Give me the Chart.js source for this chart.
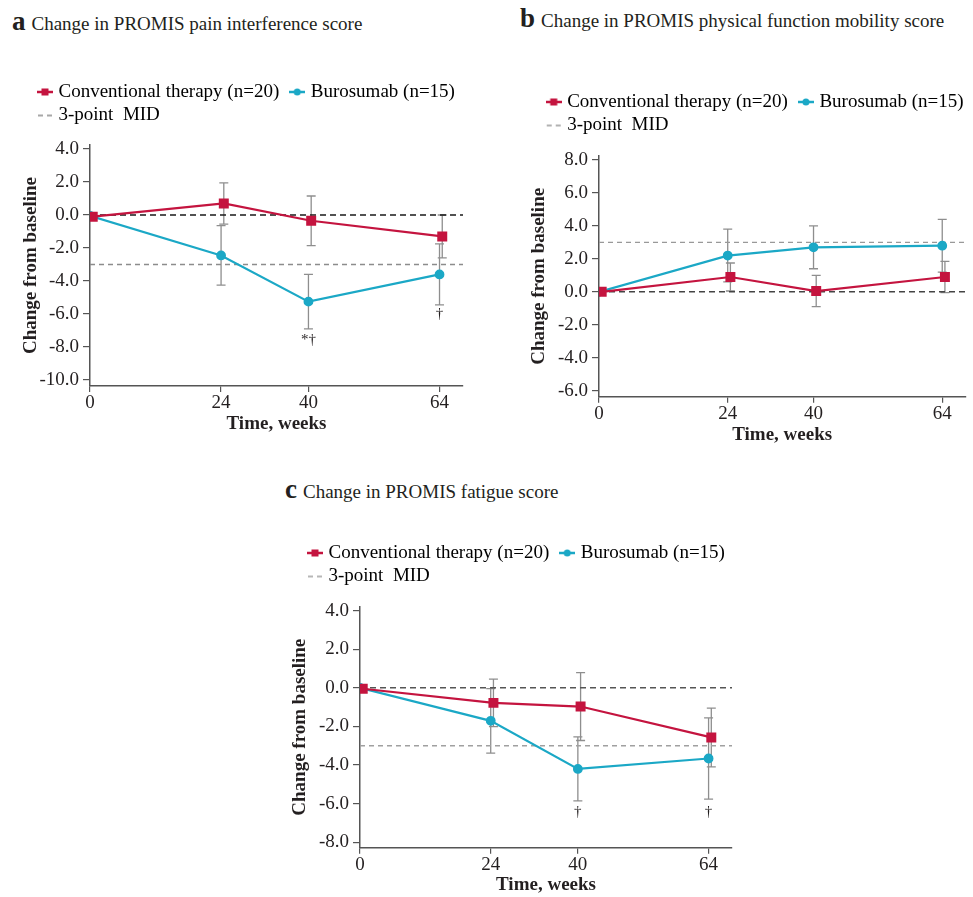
<!DOCTYPE html>
<html>
<head>
<meta charset="utf-8">
<script src="https://cdn.jsdelivr.net/npm/chart.js@4.4.0/dist/chart.umd.min.js"></script>
<style>
    body { margin: 0; background: #fff; width: 973px; height: 897px; position: relative; overflow: hidden;
           font-family: "Liberation Serif", "Times New Roman", serif; color: #231f20; }
    .title { position: absolute; white-space: nowrap; font-size: 19px; line-height: 26px; }
    .title b { font-size: 27px; }
    .title span { margin-left: 6px; }
    canvas { position: absolute; }
</style>
</head>
<body>
<div class="title" style="left:12px;top:8px"><b>a</b><span>Change in PROMIS pain interference score</span></div>
<div class="title" style="left:520px;top:5px"><b>b</b><span>Change in PROMIS physical function mobility score</span></div>
<div class="title" style="left:285px;top:476px"><b>c</b><span>Change in PROMIS fatigue score</span></div>

<canvas id="chartA" width="475" height="362" style="left:0px;top:78px"></canvas>
<canvas id="chartB" width="453" height="367" style="left:520px;top:88px"></canvas>
<canvas id="chartC" width="460" height="358" style="left:280px;top:539px"></canvas>

<script>
// values (change from baseline, mean +/- error)
const weeks = [0, 24, 40, 64];
const xTicks = [0, 24, 40, 64];
const legendLabels = ["Conventional therapy (n=20)", "Burosumab (n=15)", "3-point  MID"];

const painConv = [-0.1, 0.7, -0.35, -1.3];
const painConvErr = [0, 1.25, 1.5, 1.3];
const painBuro = [-0.05, -2.45, -5.25, -3.6];
const painBuroErr = [0, 1.8, 1.65, 1.85];
const painTicks = [-10, -8, -6, -4, -2, 0, 2, 4];
const painMid = -3;
const painNotes = [{x: 40, y: -7.6, text: "*\u2020"}, {x: 64, y: -6.0, text: "\u2020"}];

const mobConv = [0, 0.9, 0.05, 0.9];
const mobConvErr = [0, 0.85, 0.95, 0.95];
const mobBuro = [0, 2.2, 2.7, 2.8];
const mobBuroErr = [0, 1.6, 1.3, 1.6];
const mobTicks = [-6, -4, -2, 0, 2, 4, 6, 8];
const mobMid = 3;

const fatConv = [-0.05, -0.78, -0.97, -2.57];
const fatConvErr = [0, 1.23, 1.76, 1.52];
const fatBuro = [0, -1.71, -4.2, -3.66];
const fatBuroErr = [0, 1.67, 1.66, 2.1];
const fatTicks = [-8, -6, -4, -2, 0, 2, 4];
const fatMid = -3;
const fatNotes = [{x: 40, y: -6.45, text: "\u2020"}, {x: 64, y: -6.45, text: "\u2020"}];

const xMax = 68.3;
const dodge = 0.5;   // conventional arm is drawn slightly right of the tick

const ink = "#231f20";
const red = "#c4143f";
const teal = "#1ba8c6";
const axisGrey = "#555555";
const barGrey = "#8e8e8e";

Chart.defaults.font.family = '"Liberation Serif", "Times New Roman", serif';
Chart.defaults.color = ink;

function markerImage(kind, color) {
    const c = document.createElement("canvas");
    c.width = 16;
    c.height = 10;
    const g = c.getContext("2d");
    g.strokeStyle = color;
    g.fillStyle = color;
    if (kind === "dash") {
        g.lineWidth = 1.3;
        g.beginPath();
        g.moveTo(1, 5); g.lineTo(6, 5);
        g.moveTo(10, 5); g.lineTo(15, 5);
        g.stroke();
    } else {
        g.lineWidth = 2.5;
        g.beginPath();
        g.moveTo(0, 5); g.lineTo(16, 5);
        g.stroke();
        if (kind === "rect") {
            g.fillRect(4.5, 1.5, 7, 7);
        } else {
            g.beginPath();
            g.arc(8, 5, 3.5, 0, Math.PI * 2);
            g.fill();
        }
    }
    return c;
}

// vertical error bars under the lines
const errorBars = {
    id: "errorBars",
    beforeDatasetsDraw(chart) {
        const ctx = chart.ctx;
        const y = chart.scales.y;
        ctx.save();
        ctx.strokeStyle = barGrey;
        ctx.lineWidth = 1.3;
        chart.data.datasets.forEach((ds, i) => {
            if (!ds.errors) return;
            chart.getDatasetMeta(i).data.forEach((pt, j) => {
                const e = ds.errors[j];
                if (!e) return;
                const v = ds.data[j].y;
                const top = y.getPixelForValue(v + e);
                const bot = y.getPixelForValue(v - e);
                ctx.beginPath();
                ctx.moveTo(pt.x, top); ctx.lineTo(pt.x, bot);
                ctx.moveTo(pt.x - 4.5, top); ctx.lineTo(pt.x + 4.5, top);
                ctx.moveTo(pt.x - 4.5, bot); ctx.lineTo(pt.x + 4.5, bot);
                ctx.stroke();
            });
        });
        ctx.restore();
    }
};

// significance marks (* and dagger)
const notes = {
    id: "notes",
    afterDatasetsDraw(chart, args, opts) {
        if (!opts.items) return;
        const ctx = chart.ctx;
        ctx.save();
        ctx.font = '15px "Liberation Serif"';
        ctx.fillStyle = ink;
        ctx.textAlign = "center";
        ctx.textBaseline = "middle";
        opts.items.forEach(n => {
            ctx.fillText(n.text, chart.scales.x.getPixelForValue(n.x), chart.scales.y.getPixelForValue(n.y));
        });
        ctx.restore();
    }
};

// move the legend right and leave a gap under it
const legendPlace = {
    id: "legendPlace",
    beforeInit(chart, args, opts) {
        const fit = chart.legend.fit;
        const gap = opts.gap;
        chart.legend.fit = function() {
            fit.call(this);
            this.height += gap;
        };
    },
    afterLayout(chart, args, opts) {
        chart.legend.left += opts.dx;
        chart.legend.right += opts.dx;
    }
};

function legendItems(midColor) {
    return [
        // two trailing spaces widen the gap to the next entry
        {text: legendLabels[0] + "  ", pointStyle: markerImage("rect", red), fillStyle: red, strokeStyle: red, lineWidth: 0, hidden: false, datasetIndex: 0},
        {text: legendLabels[1], pointStyle: markerImage("circle", teal), fillStyle: teal, strokeStyle: teal, lineWidth: 0, hidden: false, datasetIndex: 1},
        {text: legendLabels[2], pointStyle: markerImage("dash", midColor), fillStyle: midColor, strokeStyle: midColor, lineWidth: 0, hidden: false, datasetIndex: 3}
    ];
}

function makePanel(id, p) {
    new Chart(document.getElementById(id), {
        type: "line",
        data: {
            datasets: [
                {
                    label: legendLabels[0],
                    data: weeks.map((w, i) => ({x: w + dodge, y: p.conv[i]})),
                    errors: p.convErr,
                    borderColor: red,
                    backgroundColor: red,
                    pointStyle: "rect",
                    pointRadius: 5.5,
                    borderWidth: 2.2,
                    order: 0
                },
                {
                    label: legendLabels[1],
                    data: weeks.map((w, i) => ({x: w, y: p.buro[i]})),
                    errors: p.buroErr,
                    borderColor: teal,
                    backgroundColor: teal,
                    pointStyle: "circle",
                    pointRadius: 3.8,
                    borderWidth: 2.2,
                    order: 1
                },
                {
                    label: "baseline",
                    data: [{x: 0, y: 0}, {x: xMax, y: 0}],
                    borderColor: p.zeroColor,
                    borderDash: [6, 4],
                    borderWidth: 1.5,
                    pointRadius: 0,
                    order: 2
                },
                {
                    label: legendLabels[2],
                    data: [{x: 0, y: p.mid}, {x: xMax, y: p.mid}],
                    borderColor: p.midColor,
                    borderDash: [5, 4],
                    borderWidth: 1.3,
                    pointRadius: 0,
                    order: 3
                }
            ]
        },
        options: {
            responsive: false,
            animation: false,
            layout: {padding: {left: 0, right: p.padRight, top: 0, bottom: 0}},
            plugins: {
                legend: {
                    position: "top",
                    align: "start",
                    labels: {
                        font: {size: 19},
                        color: ink,
                        usePointStyle: true,
                        pointStyleWidth: 8,
                        padding: 4.5,
                        generateLabels: () => legendItems(p.midColor)
                    }
                },
                tooltip: {enabled: false},
                legendPlace: {dx: p.legendDx, gap: p.legendGap},
                notes: {items: p.notes || []}
            },
            scales: {
                x: {
                    type: "linear",
                    min: 0,
                    max: xMax,
                    afterBuildTicks: s => { s.ticks = xTicks.map(v => ({value: v})); },
                    afterFit: s => { s.height = p.xHeight; },
                    ticks: {font: {size: 19}, color: ink, padding: 0, maxRotation: 0, autoSkip: false, callback: v => String(v)},
                    grid: {drawOnChartArea: false, tickLength: 6, color: axisGrey, lineWidth: 1.2},
                    border: {color: axisGrey, width: 1.5},
                    title: {display: true, text: "Time, weeks", font: {size: 19, weight: "bold"}, color: ink, padding: {top: 0, bottom: p.xTitlePad}}
                },
                y: {
                    type: "linear",
                    min: p.yMin,
                    max: p.yMax,
                    afterBuildTicks: s => { s.ticks = p.yTicks.map(v => ({value: v})); },
                    afterFit: s => { s.width = p.yWidth; },
                    ticks: {font: {size: 19}, color: ink, padding: 4, callback: v => v.toFixed(1)},
                    grid: {drawOnChartArea: false, tickLength: 7, color: axisGrey, lineWidth: 1.2},
                    border: {color: axisGrey, width: 1.5},
                    title: {display: true, text: "Change from baseline", font: {size: 19, weight: "bold"}, color: ink, padding: {top: p.yTitlePad, bottom: 0}}
                }
            }
        },
        plugins: [errorBars, notes, legendPlace]
    });
}

makePanel("chartA", {
    conv: painConv, convErr: painConvErr, buro: painBuro, buroErr: painBuroErr,
    yMin: -10.36, yMax: 4.24, yTicks: painTicks, mid: painMid, notes: painNotes,
    zeroColor: "#1a1a1a", midColor: "#8c8c8c",
    yWidth: 90, xHeight: 54, padRight: 12, yTitlePad: 20, xTitlePad: 5, legendDx: 36.5, legendGap: 10
});

makePanel("chartB", {
    conv: mobConv, convErr: mobConvErr, buro: mobBuro, buroErr: mobBuroErr,
    yMin: -6.36, yMax: 8.24, yTicks: mobTicks, mid: mobMid,
    zeroColor: "#444444", midColor: "#999999",
    yWidth: 79, xHeight: 58.3, padRight: 1, yTitlePad: 7.6, xTitlePad: 9, legendDx: 25.2, legendGap: 11
});

makePanel("chartC", {
    conv: fatConv, convErr: fatConvErr, buro: fatBuro, buroErr: fatBuroErr,
    yMin: -8.28, yMax: 4.2, yTicks: fatTicks, mid: fatMid, notes: fatNotes,
    zeroColor: "#555555", midColor: "#a0a0a0",
    yWidth: 80, xHeight: 49.3, padRight: 8, yTitlePad: 9, xTitlePad: 0.5, legendDx: 26.5, legendGap: 10.7
});
</script>
</body>
</html>
